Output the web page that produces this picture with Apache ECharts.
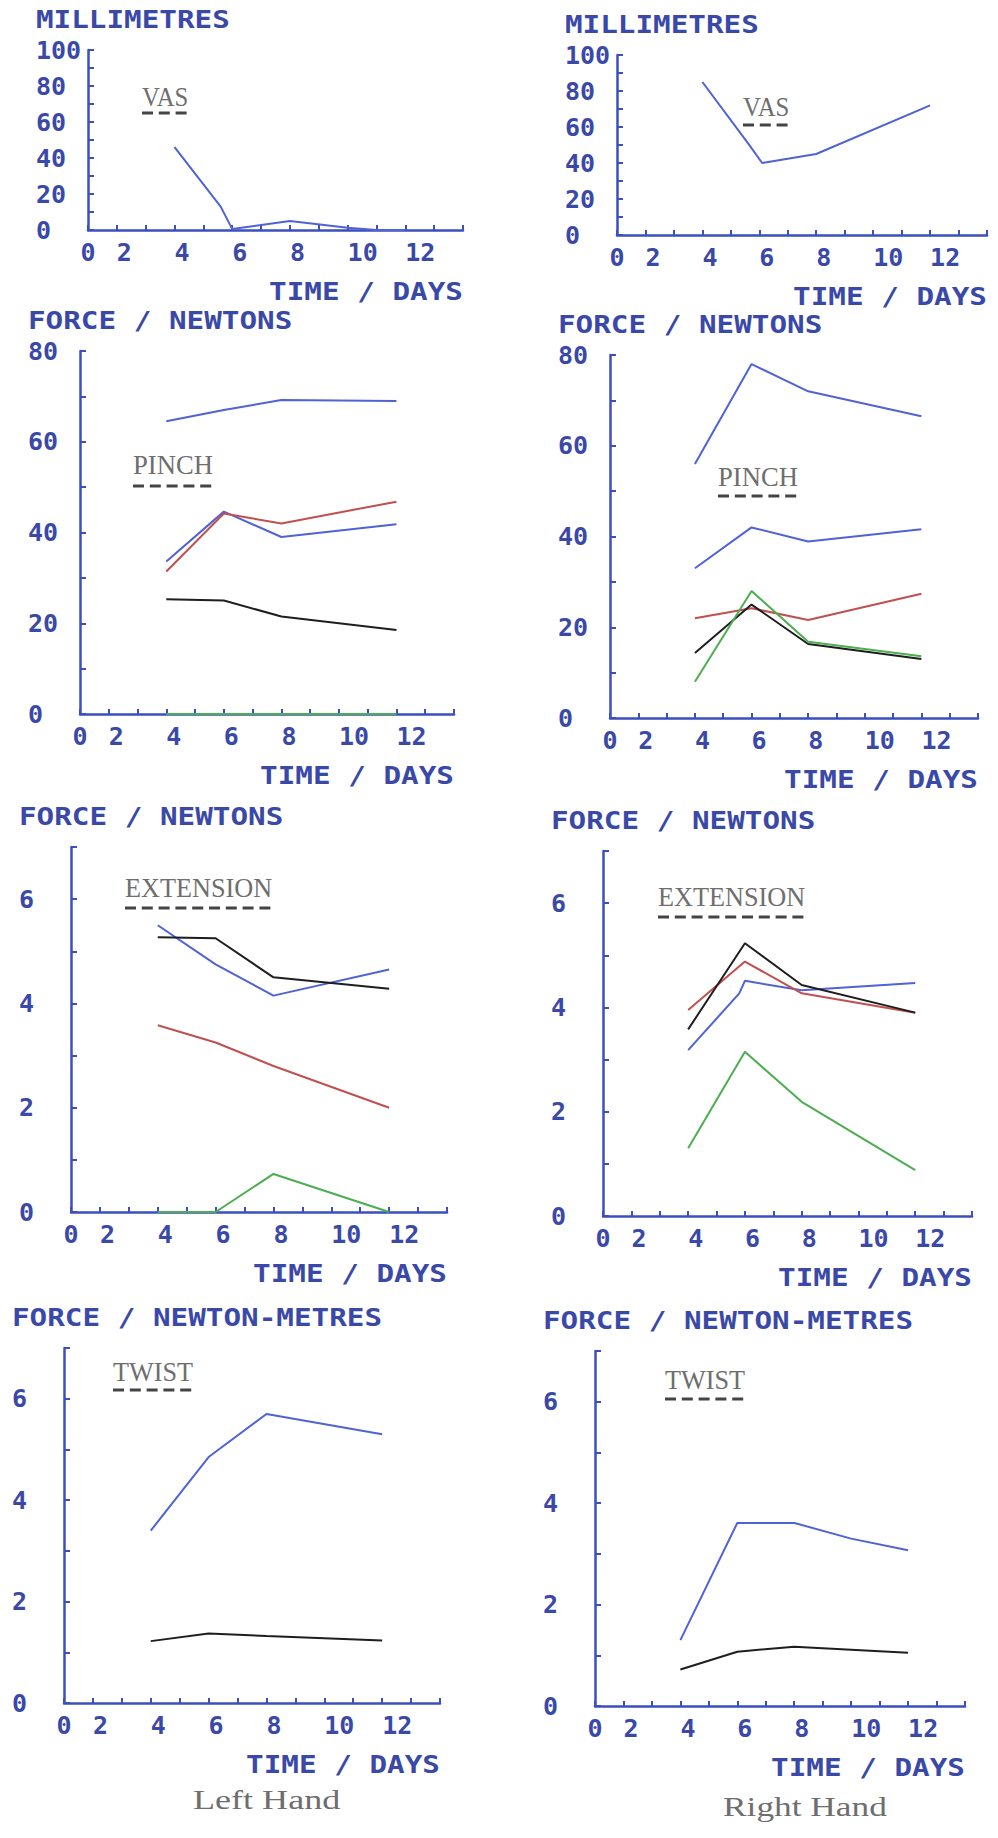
<!DOCTYPE html>
<html><head><meta charset="utf-8">
<script src="https://cdn.jsdelivr.net/npm/echarts@6/dist/echarts.min.js"></script>
<style>html,body{margin:0;padding:0;background:#fff}#c{width:998px;height:1838px}</style>
</head><body><div id="c"></div>
<script>
// ---------------- data ----------------
// x tick labels as printed by the plotter (tick value -> label)
const xTickLabels = {1:'0', 2:'2', 4:'4', 6:'6', 8:'8', 10:'10', 12:'12'};
const xAxisName = 'TIME / DAYS';
const yTitles = ['MILLIMETRES','MILLIMETRES','FORCE / NEWTONS','FORCE / NEWTONS',
                 'FORCE / NEWTONS','FORCE / NEWTONS','FORCE / NEWTON-METRES','FORCE / NEWTON-METRES'];
const tags = ['VAS','VAS','PINCH','PINCH','EXTENSION','EXTENSION','TWIST','TWIST'];
const handLabels = ['Left Hand','Right Hand'];

// VAS (millimetres)
const vasLeft  = [[4,46],[5.6,13],[6,0.5],[8,5],[10,1.3],[11,0],[12,0]];
const vasRight = [[4,85],[5.6,51],[6.1,40],[8,45],[12,72]];

// Pinch (newtons)
const pinchLeftBlueTop = [[4,64.5],[6,67],[8,69.2],[12,69]];
const pinchLeftBlue    = [[4,33.6],[6,44.6],[8,39],[12,41.8]];
const pinchLeftRed     = [[4,31.4],[6,44.2],[8,42],[12,46.8]];
const pinchLeftBlack   = [[4,25.3],[6,25],[8,21.5],[12,18.5]];
const pinchLeftGreen   = [[4,0],[6,0],[8,0],[12,0]];

const pinchRightBlueTop = [[4,56],[6,78],[8,72],[12,66.5]];
const pinchRightBlue    = [[4,33],[6,42],[8,38.9],[12,41.6]];
const pinchRightRed     = [[4,22],[6,24.2],[8,21.6],[12,27.4]];
const pinchRightBlack   = [[4,14.3],[6,25],[8,16.3],[12,13]];
const pinchRightGreen   = [[4,8],[6,28],[8,16.8],[12,13.6]];

// Extension (newtons)
const extLeftBlue  = [[4,5.5],[6,4.75],[8,4.15],[12,4.65]];
const extLeftBlack = [[4,5.27],[6,5.25],[8,4.5],[12,4.28]];
const extLeftRed   = [[4,3.58],[6,3.25],[8,2.8],[12,2.0]];
const extLeftGreen = [[4,0],[6,0],[8,0.73],[12,0]];

const extRightBlue  = [[4,3.18],[5.8,4.27],[6,4.51],[8,4.33],[12,4.47]];
const extRightRed   = [[4,3.95],[6,4.88],[8,4.27],[12,3.9]];
const extRightBlack = [[4,3.58],[6,5.23],[8,4.43],[12,3.9]];
const extRightGreen = [[4,1.3],[6,3.15],[8,2.19],[12,0.88]];

// Twist (newton-metres)
const twistLeftBlue   = [[4,3.4],[6,4.85],[8,5.7],[12,5.3]];
const twistLeftBlack  = [[4,1.22],[6,1.37],[8,1.32],[12,1.23]];
const twistRightBlue  = [[4,1.3],[6,3.61],[8,3.61],[10,3.3],[12,3.07]];
const twistRightBlack = [[4,0.72],[6,1.07],[8,1.17],[12,1.05]];

// y scales per panel: [max, tick step, label step]
const yScales = [[100,10,20],[100,10,20],[80,10,20],[80,10,20],[7,1,2],[7,1,2],[7,1,2],[7,1,2]];

// ---------------- styles & layout ----------------
const BLUE = '#4f62d6', RED = '#c0504f', GREEN = '#4cae50', BLACK = '#1e1e1e';
const AXIS = '#3d4fbf', TXT = '#3a49a8', TAGC = '#6e6e6e';

const panelSeries = [
  [[vasLeft,BLUE]],
  [[vasRight,BLUE]],
  [[pinchLeftBlueTop,BLUE],[pinchLeftBlue,BLUE],[pinchLeftRed,RED],[pinchLeftBlack,BLACK],[pinchLeftGreen,GREEN]],
  [[pinchRightBlueTop,BLUE],[pinchRightBlue,BLUE],[pinchRightRed,RED],[pinchRightBlack,BLACK],[pinchRightGreen,GREEN]],
  [[extLeftBlue,BLUE],[extLeftRed,RED],[extLeftBlack,BLACK],[extLeftGreen,GREEN]],
  [[extRightBlue,BLUE],[extRightRed,RED],[extRightBlack,BLACK],[extRightGreen,GREEN]],
  [[twistLeftBlue,BLUE],[twistLeftBlack,BLACK]],
  [[twistRightBlue,BLUE],[twistRightBlack,BLACK]]
];

const grids = [
  {left:88, top:50, width:375, height:180},
  {left:617, top:55, width:370, height:180},
  {left:80, top:351, width:374, height:363},
  {left:610, top:355, width:368, height:363},
  {left:71, top:847, width:376, height:365},
  {left:603, top:851, width:369, height:365},
  {left:64, top:1348, width:376, height:355},
  {left:595, top:1351, width:370, height:355}
];
// tag label positions [x, yCenter, underline y]
const tagPos = [[142,97,113],[743,107,125],[133,465,486],[718,477,496],
                [125,888,908],[658,897,917],[113,1372,1390],[665,1380,1399]];
const handPos = [[193,1800],[723,1807]];

const PLOT_FONT = 'DejaVu Sans Mono';
const TYPE_FONT = '"Liberation Serif"';
const TYPE_SIZE = 27;
const TYPE_PITCH = 16.8; // typewriter character pitch in px

// horizontal scale so a serif text spans typewriter pitch * chars
const _ctx = document.createElement('canvas').getContext('2d');
function pitchScale(text) {
  _ctx.font = TYPE_SIZE + 'px ' + TYPE_FONT;
  const w = _ctx.measureText(text).width;
  return w > 0 ? (text.length * TYPE_PITCH - 4) / w : 1;
}

const option = {
  backgroundColor:'#ffffff',
  animation:false,
  grid: grids.map(g => Object.assign({containLabel:false, outerBoundsMode:'none'}, g)),
  xAxis: grids.map((g,i) => ({
    type:'value', gridIndex:i, min:1, max:14, interval:1,
    axisLine:{show:true, lineStyle:{color:AXIS, width:2.5}},
    axisTick:{show:true, inside:true, length:5, lineStyle:{color:AXIS, width:2}},
    splitLine:{show:false},
    axisLabel:{
      show:true, margin:10, align:'left', alignMinLabel:'center',
      color:TXT, fontFamily:PLOT_FONT, fontWeight:'bold', fontSize:25,
      formatter: v => (xTickLabels[v] !== undefined ? xTickLabels[v] : '')
    }
  })),
  yAxis: grids.map((g,i) => ({
    type:'value', gridIndex:i, min:0, max:yScales[i][0], interval:yScales[i][1],
    axisLine:{show:true, lineStyle:{color:AXIS, width:2.5}},
    axisTick:{show:true, inside:true, length:6, lineStyle:{color:AXIS, width:2}},
    splitLine:{show:false},
    axisLabel:{
      show:true, margin:52, align:'left',
      color:TXT, fontFamily:PLOT_FONT, fontWeight:'bold', fontSize:25,
      formatter: v => (v % yScales[i][2] === 0 ? String(v) : '')
    }
  })),
  series: [],
  graphic: []
};

panelSeries.forEach((list, i) => {
  list.forEach(([data, color]) => {
    option.series.push({
      type:'line', xAxisIndex:i, yAxisIndex:i, data:data,
      symbol:'none', lineStyle:{color:color, width:2}, itemStyle:{color:color},
      z:3
    });
  });
});

const G = option.graphic;
grids.forEach((g, i) => {
  // y-axis title
  G.push({type:'text', x:g.left-52, y:g.top-31, scaleX:1.22,
    style:{text:yTitles[i], font:'bold 24px "'+PLOT_FONT+'"', fill:TXT, textAlign:'left', textVerticalAlign:'middle'}});
  // x-axis name
  G.push({type:'text', x:g.left+g.width, y:g.top+g.height+61, scaleX:1.22,
    style:{text:xAxisName, font:'bold 24px "'+PLOT_FONT+'"', fill:TXT, textAlign:'right', textVerticalAlign:'middle'}});
  // tag label with dashed underline
  const [tx, ty, uy] = tagPos[i];
  const w = tags[i].length * TYPE_PITCH;
  G.push({type:'text', x:tx, y:ty, scaleX:pitchScale(tags[i]),
    style:{text:tags[i], font:TYPE_SIZE+'px '+TYPE_FONT, fill:TAGC, textAlign:'left', textVerticalAlign:'middle'}});
  G.push({type:'line', shape:{x1:tx, y1:uy, x2:tx+w-4, y2:uy},
    style:{stroke:'#444444', lineWidth:2.8, lineDash:[11,5.8]}});
});
handLabels.forEach((t, i) => {
  G.push({type:'text', x:handPos[i][0], y:handPos[i][1], scaleX:pitchScale(t),
    style:{text:t, font:TYPE_SIZE+'px '+TYPE_FONT, fill:TAGC, textAlign:'left', textVerticalAlign:'middle'}});
});

const chart = echarts.init(document.getElementById('c'), null, {renderer:'svg', width:998, height:1838});
chart.setOption(option);
</script>
</body></html>
